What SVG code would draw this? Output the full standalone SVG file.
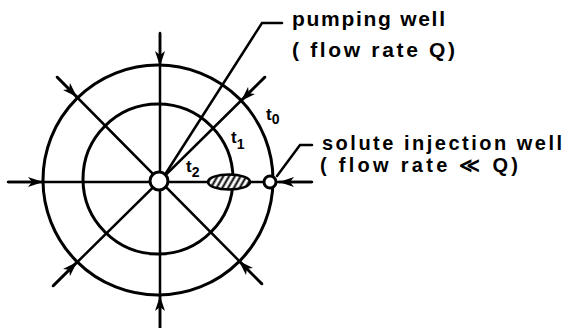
<svg xmlns="http://www.w3.org/2000/svg" width="568" height="328" viewBox="0 0 568 328">
<style>
.ln{stroke:#000;stroke-width:2.5;fill:none;stroke-linecap:round}
.ar{stroke:#000;stroke-width:2.5;fill:none;marker-end:url(#ah)}
.ring{stroke:#000;stroke-width:3;fill:none}
.well{stroke:#000;stroke-width:3;fill:#fff}
.lbl{font-family:"Liberation Sans",Arial,sans-serif;font-weight:bold;fill:#000}
.tl{font-family:"Liberation Sans",Arial,sans-serif;font-weight:bold;font-size:17px;fill:#000}
.sub{font-size:14px}
</style>
<defs>
<marker id="ah" markerUnits="userSpaceOnUse" markerWidth="16" markerHeight="10" refX="15" refY="5" orient="auto">
<path d="M0,0 L15,5 L0,10 L4,5 Z" fill="#000"/>
</marker>
<pattern id="hatch" patternUnits="userSpaceOnUse" width="5" height="5" patternTransform="rotate(30)">
<rect width="5" height="5" fill="#fff"/>
<line x1="1.5" y1="0" x2="1.5" y2="5" stroke="#000" stroke-width="2"/>
</pattern>
</defs>
<rect width="568" height="328" fill="#fff"/>
<g id="isochrones">
<circle class="ring" cx="158" cy="180" r="115"/>
<circle class="ring" cx="158" cy="179" r="75"/>
</g>
<g id="connectors">
<line class="ln" x1="8" y1="182" x2="312" y2="182"/>
<line class="ln" x1="160" y1="33" x2="160" y2="328"/>
<line class="ln" x1="57" y1="77" x2="262" y2="284"/>
<line class="ln" x1="265" y1="77" x2="53" y2="286"/>
<line class="ar" x1="8" y1="182" x2="43" y2="182"/>
<line class="ar" x1="160" y1="33" x2="160" y2="66"/>
<line class="ar" x1="160" y1="328" x2="160" y2="296"/>
<line class="ar" x1="312" y1="182" x2="279" y2="182"/>
<line class="ar" x1="57" y1="77" x2="77" y2="97"/>
<line class="ar" x1="265" y1="77" x2="241" y2="101"/>
<line class="ar" x1="53" y1="286" x2="77" y2="262"/>
<line class="ar" x1="262" y1="284" x2="239" y2="261"/>
<polyline class="ln" points="166,173 262,23 282,23"/>
<polyline class="ln" points="277,176 300,145 312,145"/>
</g>
<g id="plume">
<ellipse cx="229" cy="182" rx="21" ry="7.5" fill="url(#hatch)" stroke="#000" stroke-width="2.5"/>
</g>
<g id="pumping-well">
<circle class="well" cx="159" cy="181" r="9"/>
</g>
<g id="injection-well">
<circle class="well" cx="270" cy="182" r="6" stroke-width="2.5"/>
</g>
<g id="time-labels">
<text class="tl" x="266" y="120">t<tspan class="sub" dy="4">0</tspan></text>
<text class="tl" x="231" y="143">t<tspan class="sub" dy="6">1</tspan></text>
<text class="tl" x="186" y="172">t<tspan class="sub" dy="5">2</tspan></text>
</g>
<g id="pumping-label">
<text class="lbl" x="292" y="26" font-size="21" textLength="153" lengthAdjust="spacing">pumping well</text>
<text class="lbl" x="292" y="57" font-size="21" textLength="163" lengthAdjust="spacing">( flow rate Q)</text>
</g>
<g id="injection-label">
<text class="lbl" x="322" y="150" font-size="20" textLength="240" lengthAdjust="spacing">solute injection well</text>
<text class="lbl" x="320" y="172" font-size="20" textLength="198" lengthAdjust="spacing">( flow rate ≪ Q)</text>
</g>
</svg>
